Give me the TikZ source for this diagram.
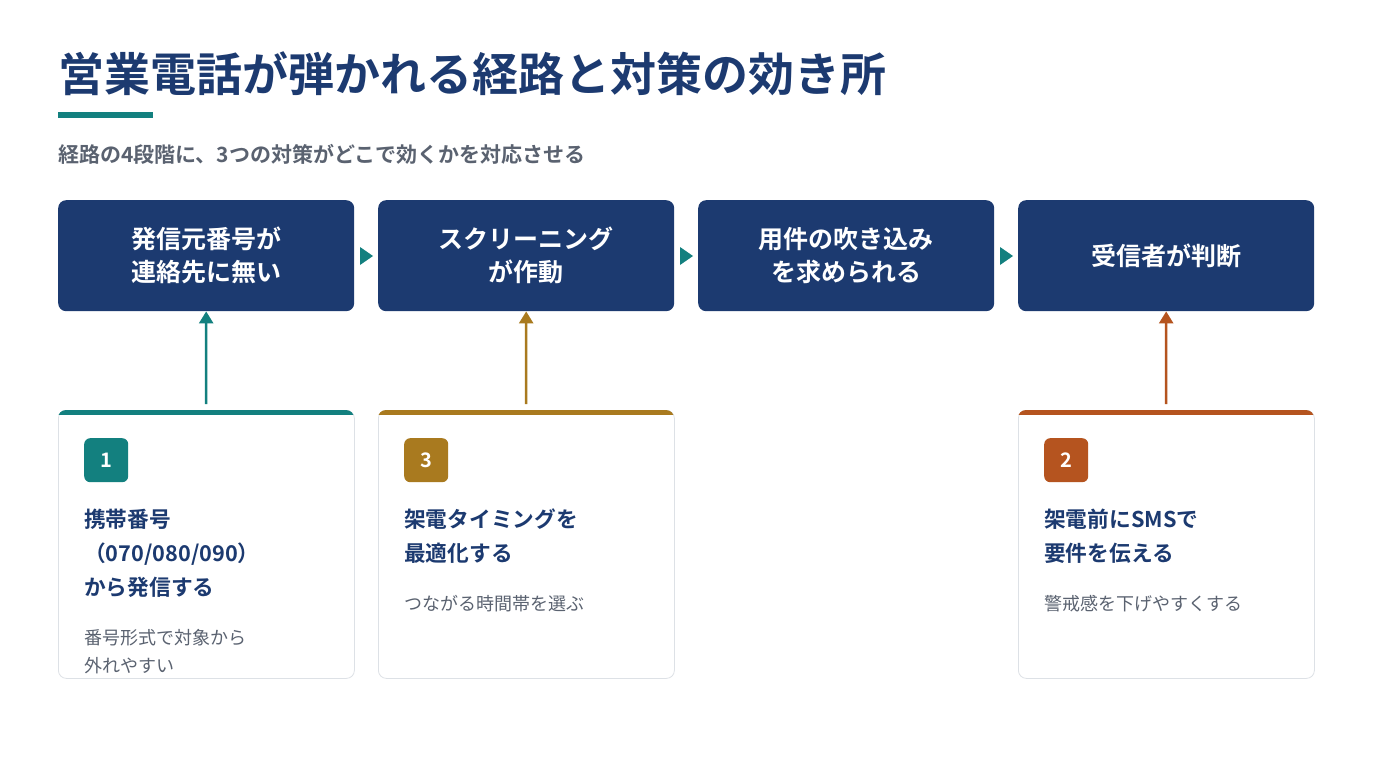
\documentclass[tikz,border=0pt]{standalone}
\usepackage{fontspec}
\usetikzlibrary{arrows.meta}
\setmainfont{Noto Sans CJK JP}[BoldFont={Noto Sans CJK JP Bold}]
\definecolor{navy}{HTML}{1C3A70}
\definecolor{teal}{HTML}{13807F}
\definecolor{gold}{HTML}{A97A1F}
\definecolor{rust}{HTML}{B5541F}
\definecolor{txtgray}{HTML}{5A6270}
\definecolor{bordergray}{HTML}{DDE1E6}
\begin{document}
\begin{tikzpicture}[x=1pt,y=-1pt,
  stepbox/.style={fill=navy,rounded corners=8pt,minimum width=296pt,minimum height=111pt,anchor=north west,text=white,font=\fontsize{25}{33}\selectfont\bfseries,align=center},
  card/.style={draw=bordergray,fill=white,rounded corners=8pt,minimum width=296pt,minimum height=268pt,anchor=north west,line width=0.8pt},
  badge/.style={rounded corners=6pt,minimum size=44pt,anchor=north west,text=white,font=\fontsize{20}{20}\selectfont\bfseries},
  ctitle/.style={anchor=north west,text=navy,font=\fontsize{21.7}{34}\selectfont\bfseries,align=left,inner sep=0},
  cdesc/.style={anchor=north west,text=txtgray,font=\fontsize{18}{28}\selectfont,align=left,inner sep=0},
  up/.style={line width=2.5pt,-{Triangle[length=12pt,width=14pt]}}]
\useasboundingbox (0,0) rectangle (1374,773);
\fill[white] (0,0) rectangle (1374,773);
\node[anchor=base west,text=navy,font=\fontsize{46}{46}\selectfont\bfseries,inner sep=0] (title) at (58,92) {営業電話が弾かれる経路と対策の効き所};
\fill[teal] (58,112) rectangle (153,118);
\node[anchor=base west,text=txtgray,font=\fontsize{21}{21}\selectfont\bfseries,inner sep=0] (sub) at (58,163) {経路の4段階に、3つの対策がどこで効くかを対応させる};
\node[stepbox] (s1) at (58,200) {発信元番号が\\連絡先に無い};
\node[stepbox] (s2) at (378,200) {スクリーニング\\が作動};
\node[stepbox] (s3) at (698,200) {用件の吹き込み\\を求められる};
\node[stepbox] (s4) at (1018,200) {受信者が判断};
\foreach \x in {360,680,1000}{\fill[teal] (\x,247) -- (\x+13,256) -- (\x,265) -- cycle;}
\node[card] (c1) at (58,410) {};
\node[card] (c2) at (378,410) {};
\node[card] (c4) at (1018,410) {};
\begin{scope}
\clip[rounded corners=8pt] (58,410) rectangle (354,678);
\fill[teal] (58,410) rectangle (354,415);
\end{scope}
\begin{scope}
\clip[rounded corners=8pt] (378,410) rectangle (674,678);
\fill[gold] (378,410) rectangle (674,415);
\end{scope}
\begin{scope}
\clip[rounded corners=8pt] (1018,410) rectangle (1314,678);
\fill[rust] (1018,410) rectangle (1314,415);
\end{scope}
\coordinate (a1) at (206,404);
\coordinate (a2) at (526,404);
\coordinate (a4) at (1166,404);
\draw[up,teal] (a1) -- (s1.south);
\draw[up,gold] (a2) -- (s2.south);
\draw[up,rust] (a4) -- (s4.south);
\node[badge,fill=teal] (b1) at (84,438) {1};
\node[badge,fill=gold] (b2) at (404,438) {3};
\node[badge,fill=rust] (b4) at (1044,438) {2};
\node[ctitle] (t1) at (84,509) {携帯番号\\（070/080/090）\\から発信する};
\node[ctitle] (t2) at (404,509) {架電タイミングを\\最適化する};
\node[ctitle] (t4) at (1044,509) {架電前にSMSで\\要件を伝える};
\node[cdesc] (d1) at (84,629) {番号形式で対象から\\外れやすい};
\node[cdesc] (d2) at (404,595) {つながる時間帯を選ぶ};
\node[cdesc] (d4) at (1044,595) {警戒感を下げやすくする};
\end{tikzpicture}
\end{document}
